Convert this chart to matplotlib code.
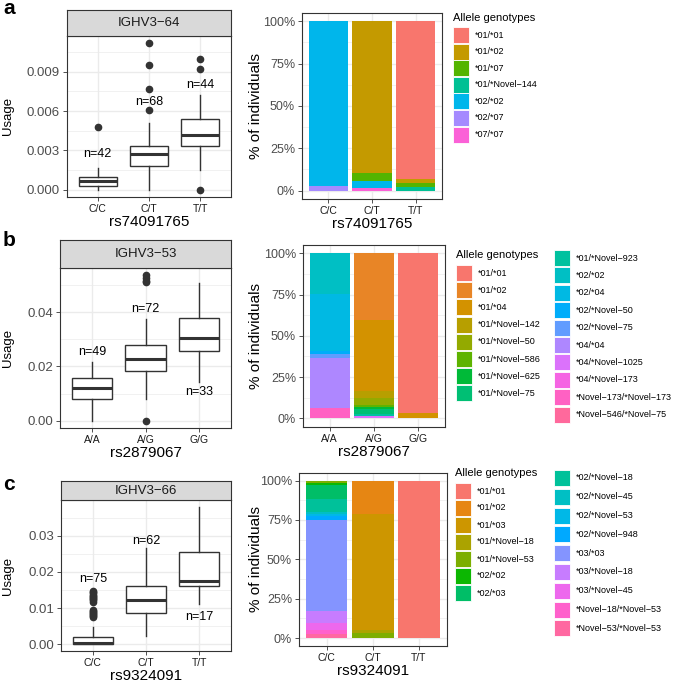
import numpy as np
import matplotlib.pyplot as plt
from matplotlib.patches import Rectangle

plt.rcParams['font.family'] = ['Liberation Sans', 'DejaVu Sans']

# ---- panel a ----
a_gene = 'IGHV3-64'
a_snp = 'rs74091765'
a_geno = ['C/C', 'C/T', 'T/T']
a_n = [42, 68, 44]
a_q1 = [0.0003, 0.0018, 0.0033]
a_med = [0.00068, 0.0027, 0.0042]
a_q3 = [0.00099, 0.00336, 0.0054]
a_lo = [0.0, 0.0, 0.0015]
a_hi = [0.00167, 0.0051, 0.0072]
a_out = [[0.0048], [0.0061, 0.0077, 0.0095, 0.0112], [0.0, 0.0092, 0.0100]]
a_nlab = [0.0027, 0.0067, 0.0080]
a_alleles = ['*01/*01', '*01/*02', '*01/*07', '*01/*Novel-144', '*02/*02', '*02/*07', '*07/*07']
a_cnt_1 = [0, 0, 0, 0, 41, 1, 0]
a_cnt_2 = [0, 61, 3, 0, 3, 0, 1]
a_cnt_3 = [41, 1, 1, 1, 0, 0, 0]

# ---- panel b ----
b_gene = 'IGHV3-53'
b_snp = 'rs2879067'
b_geno = ['A/A', 'A/G', 'G/G']
b_n = [49, 72, 33]
b_q1 = [0.0080, 0.0183, 0.0258]
b_med = [0.0119, 0.0228, 0.0304]
b_q3 = [0.0159, 0.0279, 0.0379]
b_lo = [0.0, 0.0080, 0.0143]
b_hi = [0.0216, 0.0376, 0.0507]
b_out = [[], [0.0, 0.0510, 0.0516, 0.0525, 0.0537], []]
b_nlab = [0.0252, 0.0410, 0.0107]
b_alleles = ['*01/*01', '*01/*02', '*01/*04', '*01/*Novel-142', '*01/*Novel-50',
             '*01/*Novel-586', '*01/*Novel-625', '*01/*Novel-75', '*01/*Novel-923',
             '*02/*02', '*02/*04', '*02/*Novel-50', '*02/*Novel-75', '*04/*04',
             '*04/*Novel-1025', '*04/*Novel-173', '*Novel-173/*Novel-173',
             '*Novel-546/*Novel-75']
b_cnt_1 = [0, 0, 0, 0, 0, 0, 0, 0, 0, 12, 17, 1, 1, 15, 0, 0, 3, 0]
b_cnt_2 = [0, 29, 31, 3, 3, 1, 1, 2, 1, 0, 0, 0, 0, 0, 1, 0, 0, 0]
b_cnt_3 = [32, 0, 1, 0, 0, 0, 0, 0, 0, 0, 0, 0, 0, 0, 0, 0, 0, 0]

# ---- panel c ----
c_gene = 'IGHV3-66'
c_snp = 'rs9324091'
c_geno = ['C/C', 'C/T', 'T/T']
c_n = [75, 62, 17]
c_q1 = [0.0, 0.0087, 0.0160]
c_med = [0.0003, 0.0123, 0.0174]
c_q3 = [0.0021, 0.0160, 0.0255]
c_lo = [0.0, 0.0023, 0.0112]
c_hi = [0.0048, 0.0265, 0.0380]
c_out = [[0.0146, 0.0143, 0.0141, 0.0137, 0.0134, 0.0131, 0.0127, 0.0124, 0.0121, 0.0117,
          0.0094, 0.0091, 0.0088, 0.0086, 0.0083, 0.0080, 0.0077, 0.0075], [], []]
c_nlab = [0.0180, 0.0285, 0.0075]
c_alleles = ['*01/*01', '*01/*02', '*01/*03', '*01/*Novel-18', '*01/*Novel-53', '*02/*02',
             '*02/*03', '*02/*Novel-18', '*02/*Novel-45', '*02/*Novel-53', '*02/*Novel-948',
             '*03/*03', '*03/*Novel-18', '*03/*Novel-45', '*Novel-18/*Novel-53',
             '*Novel-53/*Novel-53']
c_cnt_1 = [0, 0, 0, 0, 1, 1, 7, 6, 1, 1, 2, 43, 6, 3, 2, 2]
c_cnt_2 = [0, 13, 46, 1, 2, 0, 0, 0, 0, 0, 0, 0, 0, 0, 0, 0]
c_cnt_3 = [17, 0, 0, 0, 0, 0, 0, 0, 0, 0, 0, 0, 0, 0, 0, 0]

W, H = 683, 684
fig = plt.figure(figsize=(W / 100, H / 100), dpi=100)
DARK = '#333333'
GRID = '#EBEBEB'


def hue_pal(n):
    # ggplot default hue palette (HCL, c=100, l=65)
    cols = []
    for h in np.linspace(15, 375, n + 1)[:-1]:
        L, C = 65.0, 100.0
        U, V = C * np.cos(np.radians(h)), C * np.sin(np.radians(h))
        Y = 100 * ((L + 16) / 116) ** 3
        u = U / (13 * L) + 0.1978398
        v = V / (13 * L) + 0.4683363
        X = 9 * Y * u / (4 * v)
        Z = -X / 3 - 5 * Y + 3 * Y / v
        M = np.array([[3.240479, -1.537150, -0.498535],
                      [-0.969256, 1.875992, 0.041556],
                      [0.055648, -0.204043, 1.057311]])
        rgb = M @ np.array([X, Y, Z]) / 100
        rgb = np.where(rgb > 0.0031308, 1.055 * np.abs(rgb) ** (1 / 2.4) - 0.055, 12.92 * rgb)
        cols.append(tuple(np.clip(rgb, 0, 1)))
    return cols


def px_axes(x0, y0, x1, y1):
    return fig.add_axes([x0 / W, 1 - y1 / H, (x1 - x0) / W, (y1 - y0) / H])


def style(ax):
    for s in ax.spines.values():
        s.set_color(DARK)
        s.set_linewidth(0.8)
    ax.set_axisbelow(True)
    ax.grid(True, which='major', color=GRID, linewidth=1.0)
    ax.grid(True, which='minor', axis='y', color=GRID, linewidth=0.5)
    ax.tick_params(which='major', length=3, width=0.6, color=DARK)
    ax.tick_params(which='minor', length=0)
    ax.tick_params(axis='x', labelsize=7.5, labelcolor='#1A1A1A', pad=2)
    ax.tick_params(axis='y', labelsize=9.5, labelcolor='#4D4D4D', pad=2)


def box_panel(rect, strip, gene, snp, geno, n, q1, med, q3, lo, hi, out, nlab, yticks, fmt):
    ax = px_axes(*rect)
    stats = [dict(med=med[i], q1=q1[i], q3=q3[i], whislo=lo[i], whishi=hi[i], fliers=out[i])
             for i in range(3)]
    ax.bxp(stats, positions=[1, 2, 3], widths=0.75, patch_artist=True, showcaps=False,
           manage_ticks=False,
           boxprops=dict(facecolor='white', edgecolor=DARK, linewidth=1.0),
           whiskerprops=dict(color=DARK, linewidth=1.0),
           medianprops=dict(color=DARK, linewidth=2.2),
           flierprops=dict(marker='o', markerfacecolor=DARK, markeredgecolor=DARK,
                           markersize=4.5))
    vals = lo + hi + [v for o in out for v in o]
    lo_v, hi_v = min(vals), max(vals)
    pad = 0.05 * (hi_v - lo_v)
    ax.set_ylim(lo_v - pad, hi_v + pad)
    ax.set_xlim(0.4, 3.6)
    ax.set_xticks([1, 2, 3], geno)
    ax.set_yticks(yticks, [fmt.format(t) for t in yticks])
    step = yticks[1] - yticks[0]
    ax.set_yticks(np.array(yticks) + step / 2, minor=True)
    style(ax)
    for i in range(3):
        ax.text(i + 1, nlab[i], 'n=%d' % n[i], ha='center', va='center', fontsize=9)
    ax.set_xlabel(snp, fontsize=11, labelpad=1)
    ax.set_ylabel('Usage', fontsize=9.5, va='center')
    ax.yaxis.set_label_coords((8 - rect[0]) / (rect[2] - rect[0]), 0.5)
    sax = px_axes(*strip)
    sax.set_facecolor('#D9D9D9')
    sax.set_xticks([])
    sax.set_yticks([])
    for s in sax.spines.values():
        s.set_color(DARK)
        s.set_linewidth(0.8)
    sax.text(0.5, 0.5, gene.replace('-', '\u2212'), ha='center', va='center',
             fontsize=9.5, color='#1A1A1A', transform=sax.transAxes)


def bar_panel(rect, snp, geno, counts, colors):
    ax = px_axes(*rect)
    counts = np.array(counts, dtype=float)
    prop = counts / counts.sum(axis=1, keepdims=True)
    bottom = np.zeros(3)
    for j in reversed(range(counts.shape[1])):
        ax.bar([1, 2, 3], prop[:, j], 0.9, bottom=bottom, color=colors[j], linewidth=0)
        bottom += prop[:, j]
    ax.set_xlim(0.4, 3.6)
    ax.set_ylim(-0.05, 1.05)
    ax.set_xticks([1, 2, 3], geno)
    ax.set_yticks([0, 0.25, 0.5, 0.75, 1.0], ['0%', '25%', '50%', '75%', '100%'])
    ax.set_yticks([0.125, 0.375, 0.625, 0.875], minor=True)
    style(ax)
    ax.tick_params(axis='y', labelsize=9)
    ax.set_xlabel(snp, fontsize=11, labelpad=1)
    ax.set_ylabel('% of individuals', fontsize=11, va='center')
    ax.yaxis.set_label_coords((256 - rect[0]) / (rect[2] - rect[0]), 0.5)


def legend(tx, ty, labels, colors, cols):
    fig.text(tx / W, 1 - ty / H, 'Allele genotypes', fontsize=8, va='center')
    k = 0
    for n_items, kx, top, step in cols:
        for i in range(n_items):
            y = top + i * step
            fig.add_artist(Rectangle((kx / W, 1 - (y + 16) / H), 16 / W, 16 / H,
                                     transform=fig.transFigure, facecolor=colors[k],
                                     edgecolor='white', linewidth=0.6))
            fig.text((kx + 22) / W, 1 - (y + 8) / H, labels[k].replace('-', '\u2212'),
                     fontsize=6.5, va='center')
            k += 1


box_panel((67, 35.5, 231, 197), (67, 10, 231, 35.5), a_gene, a_snp, a_geno, a_n,
          a_q1, a_med, a_q3, a_lo, a_hi, a_out, a_nlab, [0, 0.003, 0.006, 0.009], '{:.3f}')
box_panel((60, 267.5, 231, 428), (60, 240, 231, 267.5), b_gene, b_snp, b_geno, b_n,
          b_q1, b_med, b_q3, b_lo, b_hi, b_out, b_nlab, [0, 0.02, 0.04], '{:.2f}')
box_panel((61, 500, 231, 651), (61, 481, 231, 500), c_gene, c_snp, c_geno, c_n,
          c_q1, c_med, c_q3, c_lo, c_hi, c_out, c_nlab, [0, 0.01, 0.02, 0.03], '{:.2f}')

a_cols = hue_pal(len(a_alleles))
b_cols = hue_pal(len(b_alleles))
c_cols = hue_pal(len(c_alleles))
bar_panel((302, 12.7, 442, 199), a_snp, a_geno, [a_cnt_1, a_cnt_2, a_cnt_3], a_cols)
bar_panel((303, 245, 445, 426.7), b_snp, b_geno, [b_cnt_1, b_cnt_2, b_cnt_3], b_cols)
bar_panel((299, 472.7, 446.7, 646), c_snp, c_geno, [c_cnt_1, c_cnt_2, c_cnt_3], c_cols)

legend(453, 18, a_alleles, a_cols, [(7, 453, 27, 16.6)])
legend(456, 255, b_alleles, b_cols, [(8, 456, 265, 17.2), (10, 554, 250, 17.4)])
legend(455, 473, c_alleles, c_cols, [(7, 455, 483, 17.0), (9, 554, 470, 18.8)])

for lab, y in [('a', 9), ('b', 240), ('c', 485)]:
    fig.text(3 / W, 1 - y / H, lab, fontsize=15, fontweight='bold', va='center')

fig.savefig('out.png', dpi=100)
